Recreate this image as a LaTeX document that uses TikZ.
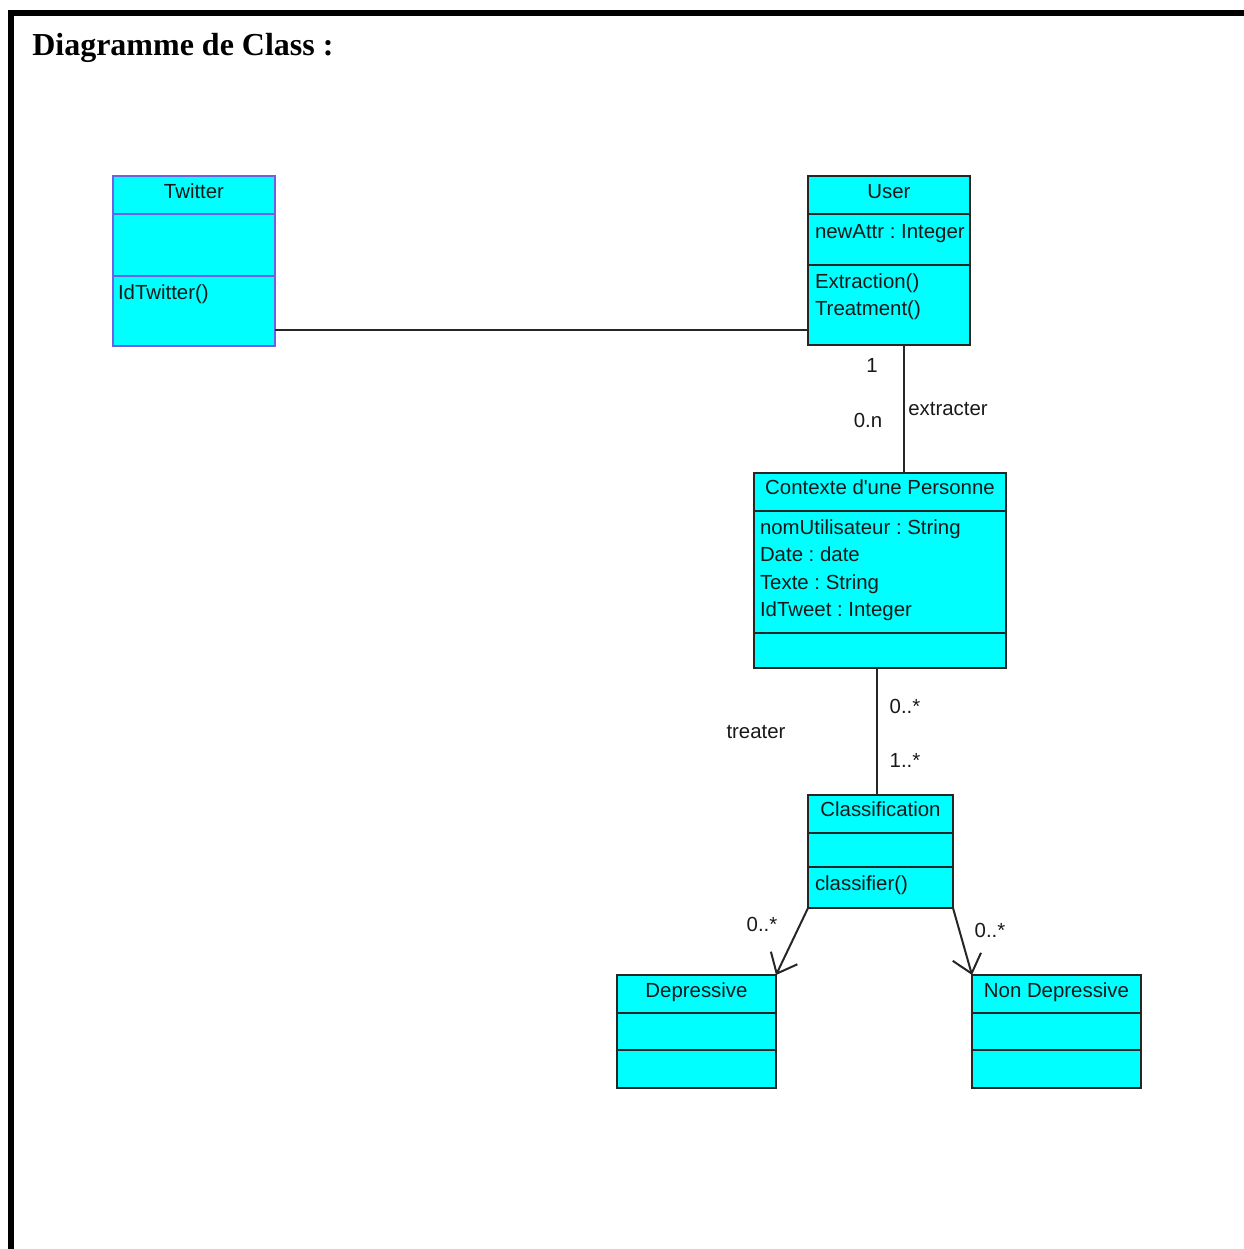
\documentclass[tikz,border=0pt]{standalone}
\usepackage{fontspec}
\setmainfont{Liberation Serif}
% plain family: keeps the straight apostrophe in "d'une"
\newfontfamily\umlfont{Liberation Sans}
\usetikzlibrary{arrows.meta,fit}

\definecolor{classfill}{RGB}{0,255,255}
\definecolor{classedge}{RGB}{38,38,38}
\definecolor{twitteredge}{RGB}{110,95,228}
\definecolor{inktext}{RGB}{25,25,25}

\begin{document}
\frenchspacing
\begin{tikzpicture}[x=0.75pt,y=-0.75pt,
  classbox/.style={draw=classedge, fill=classfill, line width=1.5pt, inner sep=0pt, outer sep=0pt},
  sepline/.style={draw=classedge, line width=1.5pt},
  uml/.style={font=\umlfont\fontsize{15.3}{18}\selectfont, text=inktext, inner sep=0pt, outer sep=0pt},
  umltitle/.style={uml, anchor=base},
  umlitem/.style={uml, anchor=base west},
  mult/.style={uml, anchor=base},
  assoc/.style={draw=classedge, line width=1.5pt},
  navig/.style={assoc, -{Straight Barb[length=13pt,width=22pt]}},
]
\useasboundingbox (0,0) rectangle (1244,1249);

% page frame (top and left edges)
\draw[line width=4pt] (1260,13) -- (11,13) -- (11,1260);
\node[anchor=base west, inner sep=0pt, font=\bfseries\fontsize{24}{28}\selectfont] (heading) at (32,55) {Diagramme de Class :};

% ---- Twitter ----
\node[classbox, draw=twitteredge, fit={(113,176) (275,346)}] (twitter) {};
\draw[sepline, draw=twitteredge] (twitter.west |- 0,214) -- (twitter.east |- 0,214);
\draw[sepline, draw=twitteredge] (twitter.west |- 0,276) -- (twitter.east |- 0,276);
\node[umltitle] (twitterName) at (twitter.center |- 0,198) {Twitter};
\node[umlitem] (twitterOp) at (118,299) {IdTwitter()};

% ---- User ----
\node[classbox, fit={(808,176) (970,345)}] (user) {};
\draw[sepline] (user.west |- 0,214) -- (user.east |- 0,214);
\draw[sepline] (user.west |- 0,265) -- (user.east |- 0,265);
\node[umltitle] (userName) at (user.center |- 0,198) {User};
\node[umlitem] (userAttr) at (815,238) {newAttr : Integer};
\node[umlitem] (userOp1) at (815,288) {Extraction()};
\node[umlitem] (userOp2) at (815,315) {Treatment()};

% ---- Contexte d'une Personne ----
\node[classbox, fit={(754,473) (1006,668)}] (ctx) {};
\draw[sepline] (ctx.west |- 0,511) -- (ctx.east |- 0,511);
\draw[sepline] (ctx.west |- 0,633) -- (ctx.east |- 0,633);
\node[umltitle] (ctxName) at (ctx.center |- 0,494) {Contexte d'une Personne};
\node[umlitem] (ctxAttr1) at (760,534) {nomUtilisateur : String};
\node[umlitem] (ctxAttr2) at (760,561) {Date : date};
\node[umlitem] (ctxAttr3) at (760,589) {Texte : String};
\node[umlitem] (ctxAttr4) at (760,616) {IdTweet : Integer};

% ---- Classification ----
\node[classbox, fit={(808,795) (953,908)}] (cls) {};
\draw[sepline] (cls.west |- 0,833) -- (cls.east |- 0,833);
\draw[sepline] (cls.west |- 0,867) -- (cls.east |- 0,867);
\node[umltitle] (clsName) at (cls.center |- 0,816) {Classification};
\node[umlitem] (clsOp) at (815,890) {classifier()};

% ---- Depressive ----
\node[classbox, fit={(617,975) (776,1088)}] (dep) {};
\draw[sepline] (dep.west |- 0,1013) -- (dep.east |- 0,1013);
\draw[sepline] (dep.west |- 0,1050) -- (dep.east |- 0,1050);
\node[umltitle] (depName) at (dep.center |- 0,997) {Depressive};

% ---- Non Depressive ----
\node[classbox, fit={(972,975) (1141,1088)}] (ndep) {};
\draw[sepline] (ndep.west |- 0,1013) -- (ndep.east |- 0,1013);
\draw[sepline] (ndep.west |- 0,1050) -- (ndep.east |- 0,1050);
\node[umltitle] (ndepName) at (ndep.center |- 0,997) {Non Depressive};

% ---- associations ----
\draw[assoc] (twitter.east |- 0,330) -- (user.west |- 0,330);
\draw[assoc] (user.south -| 904,0) -- (ctx.north -| 904,0);
\draw[assoc] (ctx.south -| 877,0) -- (cls.north -| 877,0);
\draw[navig] (cls.south west) -- (dep.north east);
\draw[navig] (cls.south east) -- (ndep.north west);

% ---- multiplicities and role names ----
\node[mult] (mUser) at (872,372) {1};
\node[mult] (mCtx) at (868,427) {0.n};
\node[mult] (rExtract) at (948,415) {extracter};
\node[mult] (mCtxLow) at (905,713) {0..*};
\node[mult] (rTreat) at (756,738) {treater};
\node[mult] (mCls) at (905,767) {1..*};
\node[mult] (mDep) at (762,931) {0..*};
\node[mult] (mNdep) at (990,937) {0..*};
\end{tikzpicture}
\end{document}
